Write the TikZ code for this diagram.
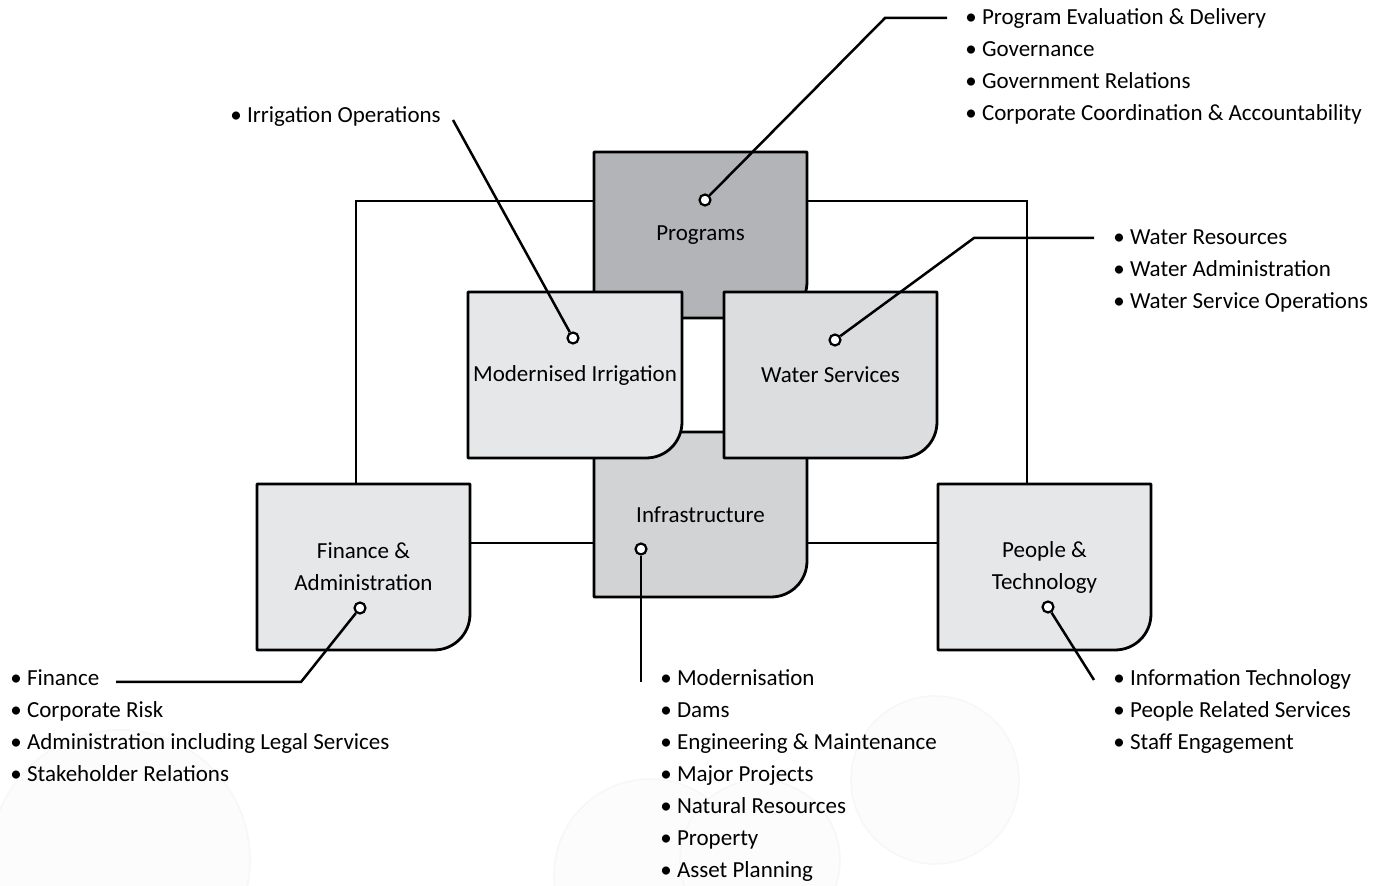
\documentclass[tikz,border=0pt]{standalone}
\usepackage{fontspec}
\setmainfont{Carlito}
\usetikzlibrary{positioning}

\definecolor{progfill}{RGB}{178,180,183}
\definecolor{infrafill}{RGB}{209,211,212}
\definecolor{waterfill}{RGB}{220,221,222}
\definecolor{unitfill}{RGB}{230,231,232}

\tikzset{
	unit/.style={draw=black, line width=1.4pt, line join=round},
	unitname/.style={minimum width=106.5pt, minimum height=83pt, inner sep=0pt, align=center, font=\fontsize{11.5}{16}\selectfont},
	link/.style={line width=1.25pt},
	dot/.style={circle, draw=black, fill=white, line width=1.1pt, inner sep=0pt, minimum size=5.5pt},
	tasks/.style={anchor=north west, inner sep=0pt, align=left, font=\fontsize{11.5}{16}\selectfont},
	bubble/.style={draw=black!3, fill=black!1, line width=0.8pt}
}

\begin{document}
\begin{tikzpicture}[x=0.5pt, y=-0.5pt]
	\useasboundingbox (0, 0) rectangle (1389, 886);
	\draw[bubble] (120, 860) circle [radius=65pt];
	\draw[bubble] (650, 875) circle [radius=48pt];
	\draw[bubble] (935, 780) circle [radius=42pt];
	\draw[bubble] (760, 860) circle [radius=40pt];

	\draw[unit, fill=progfill] (594, 152) -- (807, 152) -- (807, 282) .. controls (807, 302) and (791, 318) .. (771, 318) -- (594, 318) -- cycle;
	\node[unitname] (prog) at (700.5, 235) {Programs};
	\draw[unit, fill=infrafill] (594, 432) -- (807, 432) -- (807, 561) .. controls (807, 581) and (791, 597) .. (771, 597) -- (594, 597) -- cycle;
	\node[unitname] (infra) at (700.5, 514.5) {Infrastructure};
	\draw[unit, fill=unitfill] (468, 292) -- (682, 292) -- (682, 422) .. controls (682, 442) and (666, 458) .. (646, 458) -- (468, 458) -- cycle;
	\node[unitname] (irr) at (575, 375) {Modernised Irrigation};
	\draw[unit, fill=waterfill] (724, 292) -- (937, 292) -- (937, 422) .. controls (937, 442) and (921, 458) .. (901, 458) -- (724, 458) -- cycle;
	\node[unitname] (water) at (830.5, 375) {Water Services};
	\draw[unit, fill=unitfill] (257, 484) -- (470, 484) -- (470, 614) .. controls (470, 634) and (454, 650) .. (434, 650) -- (257, 650) -- cycle;
	\node[unitname] (fin) at (363.5, 567) {Finance \&\\Administration};
	\draw[unit, fill=unitfill] (938, 484) -- (1151, 484) -- (1151, 614) .. controls (1151, 634) and (1135, 650) .. (1115, 650) -- (938, 650) -- cycle;
	\node[unitname] (ppl) at (1044.5, 567) {People \&\\Technology};

	\coordinate (fincorner) at (356, 201);
	\coordinate (pplcorner) at (1027, 201);
	\draw[link] (fin.north -| fincorner) -- (fincorner) -- (prog.west |- fincorner);
	\draw[link] (prog.east |- pplcorner) -- (pplcorner) -- (ppl.north -| pplcorner);
	\draw[link] (fin.east |- 0, 543) -- (infra.west |- 0, 543);
	\draw[link] (infra.east |- 0, 543) -- (ppl.west |- 0, 543);

	\node[dot] (progdot) at (705, 200) {};
	\node[dot] (irrdot) at (573, 338) {};
	\node[dot] (waterdot) at (835, 340) {};
	\node[dot] (infradot) at (641, 549) {};
	\node[dot] (findot) at (360, 608) {};
	\node[dot] (ppldot) at (1048, 607) {};

	\node[tasks] (progtasks) at (965, 8) {• Program Evaluation \& Delivery\\• Governance\\• Government Relations\\• Corporate Coordination \& Accountability};
	\node[tasks] (irrtasks) at (230, 106) {• Irrigation Operations};
	\node[tasks] (watertasks) at (1113, 229) {• Water Resources\\• Water Administration\\• Water Service Operations};
	\node[tasks] (infratasks) at (660, 669) {• Modernisation\\• Dams\\• Engineering \& Maintenance\\• Major Projects\\• Natural Resources\\• Property\\• Asset Planning};
	\node[tasks] (fintasks) at (10, 669) {• Finance\\• Corporate Risk\\• Administration including Legal Services\\• Stakeholder Relations};
	\node[tasks] (ppltasks) at (1113, 669) {• Information Technology\\• People Related Services\\• Staff Engagement};

	\coordinate (progend) at (947, 18);
	\coordinate (irrend) at (453, 120);
	\coordinate (waterend) at (1094, 238);
	\coordinate (infraend) at (641, 682);
	\coordinate (finend) at (116, 682);
	\coordinate (pplend) at (1094, 680);
	\draw[link] (progdot) -- (885, 18) -- (progend);
	\draw[link] (irrdot) -- (irrend);
	\draw[link] (waterdot) -- (974, 238) -- (waterend);
	\draw[link] (infradot) -- (infraend);
	\draw[link] (findot) -- (301, 682) -- (finend);
	\draw[link] (ppldot) -- (pplend);
\end{tikzpicture}
\end{document}
